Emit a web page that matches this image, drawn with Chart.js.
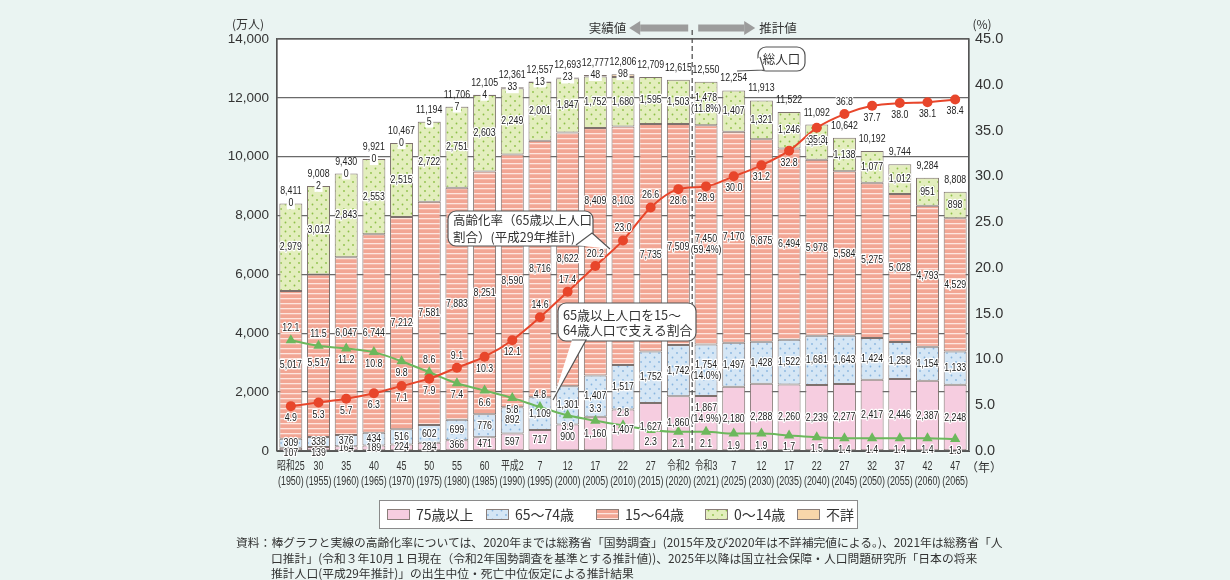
<!DOCTYPE html>
<html><head><meta charset="utf-8">
<script src="https://cdn.jsdelivr.net/npm/chart.js@4.4.1/dist/chart.umd.min.js"></script>
<style>
html,body{margin:0;padding:0;background:#EAF4F2;}
#wrap{position:relative;width:1230px;height:580px;overflow:hidden;}
canvas{position:absolute;left:0;top:0;}
#note{position:absolute;left:236px;top:534px;font-family:'Noto Sans CJK JP',sans-serif;font-size:11.8px;color:#333;line-height:15.5px;white-space:nowrap;}
#note .ind{padding-left:35px;}
</style></head>
<body><div id="wrap"><canvas id="c" width="1230" height="580"></canvas>
<div id="note"><div>資料：棒グラフと実線の高齢化率については、2020年までは総務省「国勢調査」(2015年及び2020年は不詳補完値による。)、2021年は総務省「人</div><div class="ind">口推計」(令和３年10月１日現在（令和2年国勢調査を基準とする推計値))、2025年以降は国立社会保障・人口問題研究所「日本の将来</div><div class="ind">推計人口(平成29年推計)」の出生中位・死亡中位仮定による推計結果</div></div>
</div>
<script>
// ---------------- data ----------------
const categories = ['昭和25','30','35','40','45','50','55','60','平成2','7','12','17','22','27','令和2','令和3','7','12','17','22','27','32','37','42','47'];
const years = ['(1950)','(1955)','(1960)','(1965)','(1970)','(1975)','(1980)','(1985)','(1990)','(1995)','(2000)','(2005)','(2010)','(2015)','(2020)','(2021)','(2025)','(2030)','(2035)','(2040)','(2045)','(2050)','(2055)','(2060)','(2065)'];
const age75plus = [107,139,164,189,224,284,366,471,597,717,900,1160,1407,1627,1860,1867,2180,2288,2260,2239,2277,2417,2446,2387,2248];
const age65to74 = [309,338,376,434,516,602,699,776,892,1109,1301,1407,1517,1752,1742,1754,1497,1428,1522,1681,1643,1424,1258,1154,1133];
const age15to64 = [5017,5517,6047,6744,7212,7581,7883,8251,8590,8716,8622,8409,8103,7735,7509,7450,7170,6875,6494,5978,5584,5275,5028,4793,4529];
const age0to14 = [2979,3012,2843,2553,2515,2722,2751,2603,2249,2001,1847,1752,1680,1595,1503,1478,1407,1321,1246,1194,1138,1077,1012,951,898];
const ageUnknown = [0,2,0,0,0,5,7,4,33,13,23,48,98,null,null,null,null,null,null,null,null,null,null,null,null];
const totals = [8411,9008,9430,9921,10467,11194,11706,12105,12361,12557,12693,12777,12806,12709,12615,12550,12254,11913,11522,11092,10642,10192,9744,9284,8808];
const agingRate = [4.9,5.3,5.7,6.3,7.1,7.9,9.1,10.3,12.1,14.6,17.4,20.2,23.0,26.6,28.6,28.9,30.0,31.2,32.8,35.3,36.8,37.7,38.0,38.1,38.4];
const supportRatio = [12.1,11.5,11.2,10.8,9.8,8.6,7.4,6.6,5.8,4.8,3.9,3.3,2.8,2.3,2.1,2.1,1.9,1.9,1.7,1.5,1.4,1.4,1.4,1.4,1.3];
const shares2021 = [14.9,14.0,59.4,11.8]; // 75+, 65-74, 15-64, 0-14 (%)
const leftTickLabels = ['0','2,000','4,000','6,000','8,000','10,000','12,000','14,000'];
const rightTickLabels = ['0.0','5.0','10.0','15.0','20.0','25.0','30.0','35.0','40.0','45.0'];
const legendLabels = ['75歳以上','65～74歳','15～64歳','0～14歳','不詳'];

// ---------------- label layout (not data) ----------------
const firstEstimateIndex = 15;
const agingLabelAbove = [6,9,10,11,12,13,20];
const supportLabelAbove = [0,1,5,9,11,12];
const workLabelShift = {1:7, 2:-13, 11:-51, 12:-45, 13:17, 14:12, 15:10};
const oldLabelShift = {0:4, 1:4, 15:-10};

const canvas = document.getElementById('c');
const ctx0 = canvas.getContext('2d');
function makePattern(base, draw, w, h){
  const c = document.createElement('canvas'); c.width=w; c.height=h;
  const g = c.getContext('2d'); g.fillStyle=base; g.fillRect(0,0,w,h); draw(g);
  return ctx0.createPattern(c,'repeat');
}
const pStripe = makePattern('#F2A694', g=>{g.fillStyle='rgba(255,236,230,0.9)'; g.fillRect(0,3,8,1.3);}, 8, 5);
const dots = col => g=>{g.fillStyle=col; g.beginPath(); g.arc(2,2,0.9,0,7); g.fill(); g.beginPath(); g.arc(6.5,6.5,0.9,0,7); g.fill();};
const pGreen = makePattern('#E3EEBD', dots('#8DBF48'), 9, 9);
const pBlue = makePattern('#D5E6F5', dots('#88B5DF'), 9, 9);
const c75 = '#F6CDE0';
const cUnk = '#F8D6AA';
const fills = [c75, pBlue, pStripe, pGreen, cUnk];

const NUMFONT = '11px "Liberation Sans", Arial, sans-serif';
const SX = 0.8;
const JP = '"Noto Sans CJK JP", sans-serif';
const fmt = n => n.toLocaleString('en-US');

function numLabel(ctx, text, x, y, opt={}){
  ctx.save();
  ctx.translate(x,y); ctx.scale(opt.sx||SX,1);
  ctx.font = opt.font || NUMFONT;
  ctx.textAlign='center'; ctx.textBaseline='middle';
  if(opt.box){ const w=ctx.measureText(text).width+4; ctx.fillStyle='#fff'; ctx.fillRect(-w/2,-6,w,12); }
  if(opt.halo!==false){ ctx.lineWidth=2.6; ctx.strokeStyle='#fff'; ctx.lineJoin='round'; ctx.strokeText(text,0,0); }
  ctx.fillStyle=opt.color||'#222'; ctx.fillText(text,0,0);
  ctx.restore();
}

function callout(ctx, box, tail, lines, font, tx, ty, lh, align){
  const [x,y,w,h]=box, r=8;
  ctx.save();
  ctx.beginPath();
  ctx.moveTo(x+r,y); ctx.arcTo(x+w,y,x+w,y+h,r); ctx.arcTo(x+w,y+h,x,y+h,r); ctx.arcTo(x,y+h,x,y,r); ctx.arcTo(x,y,x+w,y,r); ctx.closePath();
  ctx.fillStyle='#fff'; ctx.fill(); ctx.strokeStyle='#555'; ctx.lineWidth=1.2; ctx.stroke();
  ctx.beginPath(); ctx.moveTo(tail[0][0],tail[0][1]); ctx.lineTo(tail[1][0],tail[1][1]); ctx.lineTo(tail[2][0],tail[2][1]); ctx.closePath();
  ctx.fillStyle='#fff'; ctx.fill();
  ctx.beginPath(); ctx.moveTo(tail[0][0],tail[0][1]); ctx.lineTo(tail[1][0],tail[1][1]); ctx.lineTo(tail[2][0],tail[2][1]); ctx.stroke();
  ctx.fillStyle='#333'; ctx.font=font; ctx.textBaseline='middle'; ctx.textAlign=align||'left';
  lines.forEach((s,i)=>ctx.fillText(s,tx,ty+i*lh));
  ctx.restore();
}

function arrow(ctx, xTail, xTip, y){
  const dir = Math.sign(xTip-xTail), head=11;
  ctx.save(); ctx.fillStyle='#9C9C9C';
  ctx.fillRect(Math.min(xTail,xTip-dir*head), y-3.5, Math.abs(xTip-dir*head-xTail), 7);
  ctx.beginPath(); ctx.moveTo(xTip,y); ctx.lineTo(xTip-dir*head,y-7); ctx.lineTo(xTip-dir*head,y+7); ctx.closePath(); ctx.fill();
  ctx.restore();
}

const deco = {
  id:'deco',
  beforeDraw(chart){
    const {ctx, chartArea:a} = chart;
    ctx.save(); ctx.fillStyle='#fff'; ctx.fillRect(a.left,a.top,a.right-a.left,a.bottom-a.top); ctx.restore();
  },
  afterDatasetsDraw(chart){
    const {ctx, chartArea:a, scales} = chart;
    ctx.save(); ctx.strokeStyle='#555'; ctx.lineWidth=1.2; ctx.strokeRect(a.left,a.top,a.right-a.left,a.bottom-a.top); ctx.restore();
    const xd = (scales.x.getPixelForValue(firstEstimateIndex-1)+scales.x.getPixelForValue(firstEstimateIndex))/2;
    ctx.save(); ctx.strokeStyle='#555'; ctx.lineWidth=1.3; ctx.setLineDash([5,3]);
    ctx.beginPath(); ctx.moveTo(xd,30); ctx.lineTo(xd,a.bottom); ctx.stroke(); ctx.restore();
    const series = [age75plus, age65to74, age15to64, age0to14];
    series.forEach((arr,k)=>{
      const meta = chart.getDatasetMeta(k);
      meta.data.forEach((el,j)=>{
        let cy = (el.y+el.base)/2;
        if(k===2 && workLabelShift[j]!==undefined) cy += workLabelShift[j];
        if(k===0 && oldLabelShift[j]!==undefined) cy += oldLabelShift[j];
        if(j===firstEstimateIndex){
          numLabel(ctx, fmt(arr[j]), el.x, cy-5.5);
          numLabel(ctx, '('+shares2021[k].toFixed(1)+'%)', el.x, cy+5.5);
        } else numLabel(ctx, fmt(arr[j]), el.x, cy);
      });
    });
    const mU = chart.getDatasetMeta(4), m0 = chart.getDatasetMeta(3);
    totals.forEach((t,j)=>{
      let top = m0.data[j].y;
      const x = m0.data[j].x;
      if(ageUnknown[j]!==null){ top = mU.data[j].y; numLabel(ctx, fmt(ageUnknown[j]), x, top, {box:true, halo:false}); }
      numLabel(ctx, fmt(t), x, top-12, {halo:false, color:'#222'});
    });
    const mA = chart.getDatasetMeta(5), mS = chart.getDatasetMeta(6);
    mA.data.forEach((p,j)=>{ numLabel(ctx, agingRate[j].toFixed(1), p.x, p.y + (agingLabelAbove.includes(j)?-12:12)); });
    mS.data.forEach((p,j)=>{ numLabel(ctx, supportRatio[j].toFixed(1), p.x, p.y + (supportLabelAbove.includes(j)?-12:12)); });
  },
  afterDraw(chart){
    const {ctx, chartArea:a, scales} = chart;
    ctx.save(); ctx.fillStyle='#333'; ctx.textAlign='center'; ctx.textBaseline='middle';
    categories.forEach((c,i)=>{
      const x = scales.x.getPixelForValue(i);
      [c, years[i]].forEach((s,l)=>{
        ctx.save(); ctx.translate(x, 467+l*14.5); ctx.scale(0.74,1);
        ctx.font='12px "Liberation Sans", "Noto Sans CJK JP", sans-serif'; ctx.fillText(s,0,0); ctx.restore();
      });
    });
    ctx.font='12px '+JP; ctx.textAlign='left'; ctx.fillText('（年）', a.right-3, 467);
    ctx.textAlign='center'; ctx.font='12px '+JP;
    ctx.fillText('(万人)', 248, 24);
    ctx.fillText('(%)', 982, 24);
    ctx.restore();
    const xd = (scales.x.getPixelForValue(firstEstimateIndex-1)+scales.x.getPixelForValue(firstEstimateIndex))/2;
    arrow(ctx, xd-4, xd-63, 28);
    arrow(ctx, xd+6, xd+63, 28);
    ctx.save(); ctx.fillStyle='#333'; ctx.font='12.5px '+JP; ctx.textBaseline='middle';
    ctx.textAlign='right'; ctx.fillText('実績値', xd-66, 28);
    ctx.textAlign='left'; ctx.fillText('推計値', xd+67, 28);
    ctx.restore();
    callout(ctx, [758,47,47,24], [[760,57],[764,70],[737,71]], ['総人口'], '12.5px '+JP, 781.5, 59, 0, 'center');
    callout(ctx, [448,211,145,35], [[576,245],[592,233],[610,249]], ['高齢化率（65歳以上人口','割合）(平成29年推計)'], '12.5px '+JP, 453, 220.5, 16.5);
    callout(ctx, [558,303,138,38], [[572,340],[586,340],[553,400]], ['65歳以上人口を15～','64歳人口で支える割合'], '12.8px '+JP, 563, 315.5, 14.5);
    ctx.save();
    ctx.fillStyle='#fff'; ctx.fillRect(379,500,479,29); ctx.strokeStyle='#8a8a8a'; ctx.lineWidth=1; ctx.strokeRect(379.5,500.5,478,28);
    const sw = [387,486,596,705,797];
    legendLabels.forEach((s,i)=>{
      ctx.fillStyle=fills[i]; ctx.fillRect(sw[i],509,23,11);
      ctx.strokeStyle='#8a7e7a'; ctx.strokeRect(sw[i]+0.5,509.5,22,10);
      ctx.fillStyle='#333'; ctx.font='14px '+JP; ctx.textBaseline='middle'; ctx.textAlign='left';
      ctx.fillText(s, sw[i]+29, 515);
    });
    ctx.restore();
  }
};

const barDs = (label, data, i) => ({type:'bar', label, data, backgroundColor:fills[i], borderColor:'#7d716d', borderWidth:1, borderSkipped:false, stack:'s', yAxisID:'y', order:2, barPercentage:0.83, categoryPercentage:1});

new Chart(canvas, {
  type:'bar',
  data:{
    labels: categories,
    datasets:[
      barDs(legendLabels[0], age75plus, 0),
      barDs(legendLabels[1], age65to74, 1),
      barDs(legendLabels[2], age15to64, 2),
      barDs(legendLabels[3], age0to14, 3),
      barDs(legendLabels[4], ageUnknown, 4),
      {type:'line', label:'高齢化率', data:agingRate, yAxisID:'y2', borderColor:'#E8462B', backgroundColor:'#E8462B', borderWidth:2, pointRadius:5, pointBorderWidth:0, tension:0.3, cubicInterpolationMode:'monotone', order:0},
      {type:'line', label:'支える割合', data:supportRatio, yAxisID:'y2', borderColor:'#6CB85C', backgroundColor:'#6CB85C', borderWidth:2, pointStyle:'triangle', pointRadius:6, pointBorderWidth:0, tension:0.3, cubicInterpolationMode:'monotone', order:1}
    ]
  },
  options:{
    responsive:false, animation:false,
    layout:{padding:{top:39,left:0,right:0,bottom:0}},
    plugins:{legend:{display:false}, tooltip:{enabled:false}},
    scales:{
      x:{stacked:true, grid:{display:false}, border:{display:true,color:'#555'}, ticks:{display:false}, afterFit:s=>{s.height=129;}},
      y:{stacked:true, position:'left', min:0, max:14000, ticks:{stepSize:2000, padding:8, color:'#333', font:{size:13.5, family:'"Liberation Sans", Arial, sans-serif'}, callback:(v,i)=>leftTickLabels[i]},
         grid:{color:'#6a6a6a', lineWidth:1.3, drawTicks:false}, border:{color:'#555', width:1.2}, afterFit:s=>{s.width=277;}},
      y2:{position:'right', min:0, max:45, ticks:{stepSize:5, padding:6, color:'#333', font:{size:14.5, family:'"Liberation Sans", Arial, sans-serif'}, callback:(v,i)=>rightTickLabels[i]},
         grid:{display:false, drawTicks:false}, border:{color:'#555', width:1.2}, afterFit:s=>{s.width=261;}}
    }
  },
  plugins:[deco]
});
</script>
</body></html>
